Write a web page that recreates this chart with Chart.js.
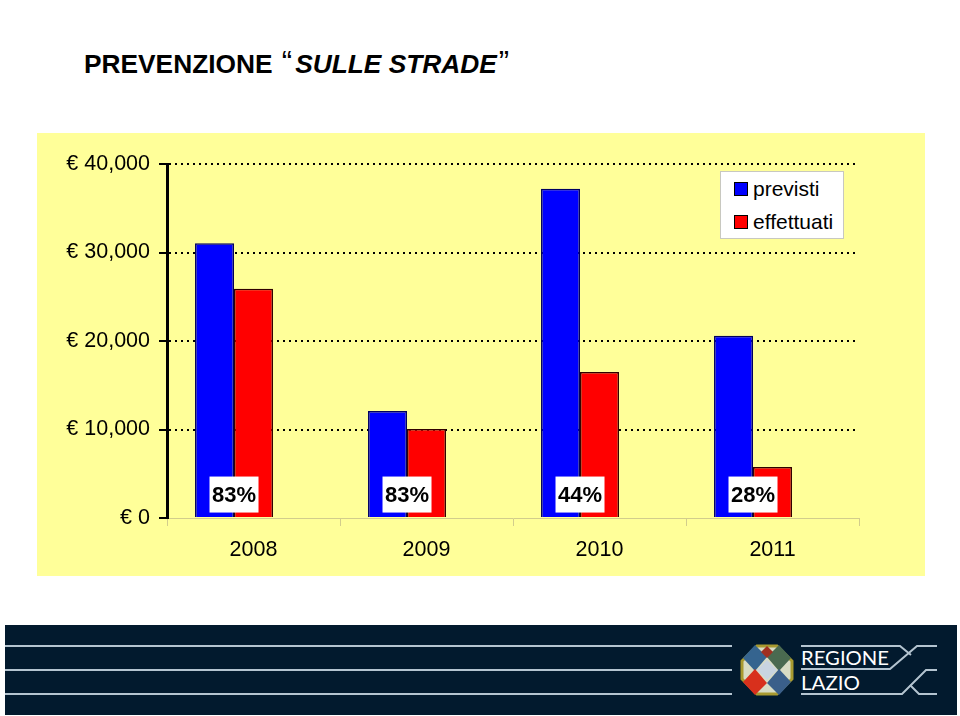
<!DOCTYPE html>
<html>
<head>
<meta charset="utf-8">
<title>Prevenzione sulle strade</title>
<script src="https://cdn.jsdelivr.net/npm/chart.js@4"></script>
<style>
  html, body { margin: 0; padding: 0; background: #fff; }
  body { width: 960px; height: 716px; position: relative; overflow: hidden; font-family: "Liberation Sans", Arial, sans-serif; color: #000; }
  #title { position: absolute; left: 84px; top: 47px; font-size: 26.3px; font-weight: bold; white-space: pre; line-height: 34px; }
  #title b { font-weight: normal; font-size: 31px; line-height: 20px; margin: 0 3px 0 2px; }
  #box { position: absolute; left: 37px; top: 133px; width: 888px; height: 443px; background: #ffff99; }
  #legend { position: absolute; left: 720px; top: 171px; width: 122px; height: 66px; background: #fff; border: 1px solid #c8c8c0; font-size: 21px; }
  #legend div { position: absolute; left: 32px; white-space: nowrap; line-height: 24px; }
  #legend span { position: absolute; left: -19px; top: 5px; width: 12px; height: 12px; border: 1px solid #000; }
  #footer { position: absolute; left: 5px; top: 625px; width: 952px; height: 90px; }
</style>
</head>
<body>
<div id="title">PREVENZIONE <b>“</b><i>SULLE STRADE</i><b>”</b></div>
<div id="box"><canvas id="barChart" width="888" height="443"></canvas></div>
<div id="legend"></div>
<svg id="footer" width="952" height="90" viewBox="5 625 952 90">
  <rect x="5" y="625" width="952" height="90" fill="#021a2e"/>
  <g stroke="#b4c4d0" stroke-width="2" fill="none">
    <path d="M5 646H732M5 670H732M5 694H732"/>
    <path d="M801 646H900L911 655"/>
    <path d="M937 646H917L890 669H801"/>
    <path d="M801 694H902L926 670H937"/>
    <path d="M910 685L919 694H937"/>
  </g>
  <polygon points="757,646 777,646 792,661 792,679 777,694 757,694 742,679 742,661" fill="#d8dcc4" stroke="#a89a30" stroke-width="3"/>
  <polygon points="755,645 767,657 755,671 743,658" fill="#35648f"/>
  <polygon points="779,645 791,658 779,671 767,657" fill="#4a6a50"/>
  <polygon points="755,669 767,683 755,695 743,682" fill="#d8301c"/>
  <polygon points="779,669 791,682 779,695 767,683" fill="#3a5f8a"/>
  <polygon points="767,646 773,652 767,658 761,652" fill="#a03020"/>
  <polygon points="767,660 777,670 767,680 757,670" fill="#c8d4e0"/>
  <g fill="#fff" font-family="Lato, sans-serif" font-size="20">
    <text x="801" y="665" textLength="88" lengthAdjust="spacingAndGlyphs">REGIONE</text>
    <text x="801" y="690" textLength="59" lengthAdjust="spacingAndGlyphs">LAZIO</text>
  </g>
</svg>
<script>
var years = ["2008", "2009", "2010", "2011"];
var previsti = [31050, 12100, 37200, 20600];
var effettuati = [25900, 10050, 16500, 5750];
var spacer = [null, null, null, null]; // empty third slot, the bars sit left of the year label
var percentuali = ["83%", "83%", "44%", "28%"];
var yTicks = [0, 10000, 20000, 30000, 40000];
var seriesNames = ["previsti", "effettuati"];
var seriesColors = ["#0000ff", "#ff0000"];

var FONT = '"Liberation Sans", Arial, sans-serif';

// white boxes with the percentage, centred on each pair of bars
var percentBoxes = {
  id: "percentBoxes",
  afterDatasetsDraw: function (chart) {
    var c = chart.ctx;
    var a = chart.getDatasetMeta(0).data;
    var b = chart.getDatasetMeta(1).data;
    var y = chart.scales.y.getPixelForValue(2650);
    c.save();
    c.font = "bold 22px " + FONT;
    c.textAlign = "center";
    c.textBaseline = "middle";
    percentuali.forEach(function (txt, i) {
      var x = (a[i].x + b[i].x) / 2;
      c.fillStyle = "#fff";
      c.fillRect(x - 24.5, y - 18, 49, 36);
      c.fillStyle = "#000";
      c.fillText(txt, x, y + 1);
    });
    c.restore();
  },
};

var ctx = document.getElementById("barChart").getContext("2d");
var myChart = new Chart(ctx, {
  type: "bar",
  data: {
    labels: years,
    datasets: [
      { label: seriesNames[0], data: previsti, backgroundColor: seriesColors[0], borderColor: "#000060", borderWidth: 1.5 },
      { label: seriesNames[1], data: effettuati, backgroundColor: seriesColors[1], borderColor: "#300000", borderWidth: 1.5 },
      { label: "", data: spacer },
    ],
  },
  plugins: [percentBoxes],
  options: {
    responsive: false,
    animation: false,
    layout: { padding: { top: 31, right: 66, left: 0, bottom: 0 } },
    datasets: { bar: { categoryPercentage: 0.676, barPercentage: 1 } },
    plugins: { legend: { display: false }, tooltip: { enabled: false } },
    scales: {
      x: {
        afterFit: function (s) { s.height = 58; },
        border: { color: "#d2cd8c", width: 1 },
        grid: { offset: true, drawOnChartArea: false, color: "#d2cd8c", tickLength: 8 },
        ticks: { color: "#000", font: { family: FONT, size: 21.5 }, padding: 11, maxRotation: 0 },
      },
      y: {
        min: 0,
        max: 40000,
        afterFit: function (s) { s.width = 130; },
        afterBuildTicks: function (s) {
          s.ticks = yTicks.map(function (v) { return { value: v }; });
        },
        border: { color: "#000", width: 3, dash: [2, 4] },
        grid: {
          color: function (c) { return c.tick && c.tick.value === 0 ? "rgba(0,0,0,0)" : "#000"; },
          tickColor: "#000",
          lineWidth: 2,
          tickWidth: 2,
          tickLength: 8,
          tickBorderDash: [],
        },
        ticks: {
          color: "#000",
          padding: 9,
          font: { family: FONT, size: 21.5 },
          callback: function (v) { return "€ " + v.toLocaleString("en-US"); },
        },
      },
    },
  },
});

// legend box
var legend = document.getElementById("legend");
seriesNames.forEach(function (name, i) {
  var row = document.createElement("div");
  row.style.top = 5 + i * 33 + "px";
  row.textContent = name;
  var sw = document.createElement("span");
  sw.style.background = seriesColors[i];
  row.appendChild(sw);
  legend.appendChild(row);
});
</script>
</body>
</html>
